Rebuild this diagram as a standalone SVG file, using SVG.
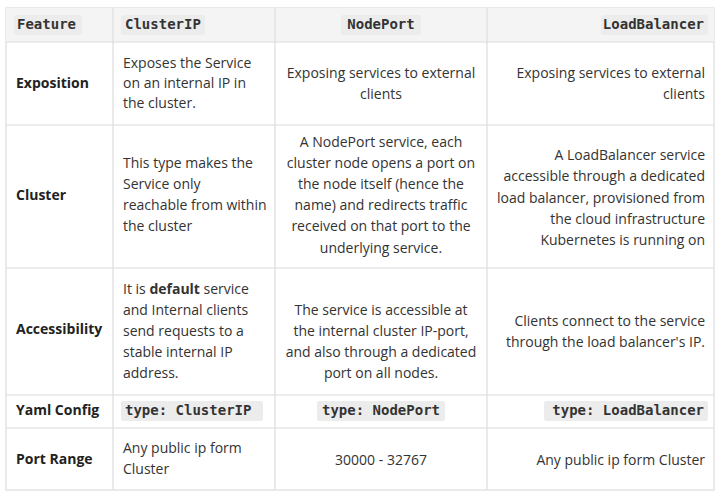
<svg xmlns="http://www.w3.org/2000/svg" width="720" height="498" viewBox="0 0 720 498">
<style>
text{font-family:"Open Sans","Noto Sans","Liberation Sans",sans-serif;font-size:14px;fill:#333;dominant-baseline:middle}
.b{font-weight:bold;fill:#222}
.m{font-family:"DejaVu Sans Mono","Liberation Mono",monospace;font-size:14px;font-weight:bold;fill:#333}
.c{text-anchor:middle}.r{text-anchor:end}
.chip{fill:#ececec}
.ln{stroke:#dcdcdc;stroke-width:1.2}
</style>
<rect width="720" height="498" fill="#fff"/>
<rect x="6" y="8" width="708" height="482" fill="#fff" stroke="#dcdcdc" stroke-width="1.2"/>
<rect x="6" y="8" width="708" height="34" fill="#f4f4f4"/>
<g id="grid">
<line class="ln" x1="113" y1="8" x2="113" y2="490"/>
<line class="ln" x1="275" y1="8" x2="275" y2="490"/>
<line class="ln" x1="487" y1="8" x2="487" y2="490"/>
<line class="ln" x1="6" y1="42" x2="714" y2="42"/>
<line class="ln" x1="6" y1="125" x2="714" y2="125"/>
<line class="ln" x1="6" y1="268" x2="714" y2="268"/>
<line class="ln" x1="6" y1="395" x2="714" y2="395"/>
<line class="ln" x1="6" y1="428" x2="714" y2="428"/>
</g>
<g id="header">
<rect class="chip" x="14" y="15" width="68" height="20" rx="2"/><text class="m" x="17" y="25">Feature</text>
<rect class="chip" x="121" y="15" width="84" height="20" rx="2"/><text class="m" x="125" y="25">ClusterIP</text>
<rect class="chip" x="341" y="15" width="80" height="20" rx="2"/><text class="m c" x="381" y="25">NodePort</text>
<rect class="chip" x="601" y="15" width="107" height="20" rx="2"/><text class="m r" x="704" y="25">LoadBalancer</text>
</g>
<g id="row-exposition">
<text class="b" x="16" y="84">Exposition</text>
<text x="123" y="64">Exposes the Service</text>
<text x="123" y="84">on an internal IP in</text>
<text x="123" y="104">the cluster.</text>
<text class="c" x="381" y="74">Exposing services to external</text>
<text class="c" x="381" y="95">clients</text>
<text class="r" x="705" y="74">Exposing services to external</text>
<text class="r" x="705" y="95">clients</text>
</g>
<g id="row-cluster">
<text class="b" x="16" y="196">Cluster</text>
<text x="123" y="164">This type makes the</text>
<text x="123" y="185">Service only</text>
<text x="123" y="206">reachable from within</text>
<text x="123" y="227">the cluster</text>
<text class="c" x="381" y="143">A NodePort service, each</text>
<text class="c" x="381" y="164">cluster node opens a port on</text>
<text class="c" x="381" y="185">the node itself (hence the</text>
<text class="c" x="381" y="206">name) and redirects traffic</text>
<text class="c" x="381" y="227">received on that port to the</text>
<text class="c" x="381" y="249">underlying service.</text>
<text class="r" x="705" y="156">A LoadBalancer service</text>
<text class="r" x="705" y="177">accessible through a dedicated</text>
<text class="r" x="705" y="199">load balancer, provisioned from</text>
<text class="r" x="705" y="220">the cloud infrastructure</text>
<text class="r" x="705" y="241">Kubernetes is running on</text>
</g>
<g id="row-accessibility">
<text class="b" x="16" y="330">Accessibility</text>
<text x="123" y="290">It is <tspan font-weight="bold">default</tspan> service</text>
<text x="123" y="311">and Internal clients</text>
<text x="123" y="332">send requests to a</text>
<text x="123" y="353">stable internal IP</text>
<text x="123" y="374">address.</text>
<text class="c" x="381" y="311">The service is accessible at</text>
<text class="c" x="381" y="332">the internal cluster IP-port,</text>
<text class="c" x="381" y="353">and also through a dedicated</text>
<text class="c" x="381" y="374">port on all nodes.</text>
<text class="r" x="705" y="322">Clients connect to the service</text>
<text class="r" x="705" y="343">through the load balancer's IP.</text>
</g>
<g id="row-yaml">
<text class="b" x="16" y="411">Yaml Config</text>
<rect class="chip" x="121" y="401" width="142" height="20" rx="2"/><text class="m" x="125" y="411">type: ClusterIP</text>
<rect class="chip" x="317" y="401" width="128" height="20" rx="2"/><text class="m c" x="381" y="411">type: NodePort</text>
<rect class="chip" x="544" y="401" width="164" height="20" rx="2"/><text class="m r" x="704" y="411">type: LoadBalancer</text>
</g>
<g id="row-port">
<text class="b" x="16" y="460">Port Range</text>
<text x="123" y="449">Any public ip form</text>
<text x="123" y="470">Cluster</text>
<text class="c" x="381" y="461">30000 - 32767</text>
<text class="r" x="705" y="461">Any public ip form Cluster</text>
</g>
</svg>
